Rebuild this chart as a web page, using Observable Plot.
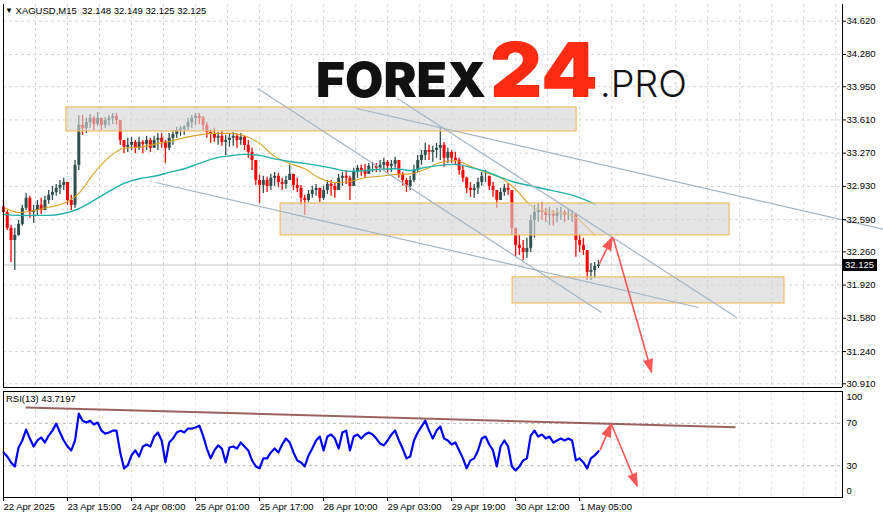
<!DOCTYPE html>
<html><head><meta charset="utf-8">
<script src="https://cdn.jsdelivr.net/npm/d3@7"></script>
<script src="https://cdn.jsdelivr.net/npm/@observablehq/plot@0.6"></script>
<style>
body{margin:0;background:#fff;}
#wrap{position:relative;width:883px;height:518px;overflow:hidden;font-family:"Liberation Sans",Arial,sans-serif;}
#wrap > svg, #wrap > div{position:absolute;}
.lbl{font-size:9.5px;color:#000;white-space:pre;line-height:1;}
</style></head><body><div id="wrap"></div>
<script>
// ---------- DATA (hourly bars, hour index from 22 Apr 22:00) ----------
const firstOpen = 32.72;
const high = [32.786,32.683,32.531,32.501,32.581,32.736,32.858,32.828,32.736,32.786,32.808,32.828,32.888,32.930,32.950,32.990,33.013,32.940,32.838,33.195,
33.656,33.656,33.626,33.666,33.646,33.686,33.626,33.636,33.656,33.676,33.676,33.554,33.400,33.422,33.432,33.400,33.432,33.400,33.442,33.422,
33.442,33.472,33.472,33.400,33.472,33.502,33.534,33.544,33.554,33.626,33.656,33.676,33.676,33.646,33.584,33.502,33.524,33.482,33.492,33.452,
33.472,33.482,33.462,33.472,33.442,33.400,33.320,33.195,33.043,33.033,33.023,33.053,33.073,33.063,33.013,33.033,33.145,33.053,33.013,32.940,
32.838,32.888,32.930,32.950,32.910,32.930,32.990,32.990,32.970,33.053,33.073,33.093,33.033,33.115,33.145,33.145,33.155,33.165,33.175,33.165,
33.195,33.217,33.195,33.195,33.227,33.195,33.073,33.013,33.033,33.145,33.247,33.297,33.370,33.350,33.340,33.370,33.524,33.380,33.320,33.297,
33.277,33.217,33.145,33.023,32.970,32.950,33.013,33.073,33.093,33.033,32.970,32.868,32.910,32.950,32.960,32.888,32.501,32.429,32.376,32.399,
32.633,32.736,32.756,32.766,32.706,32.716,32.683,32.706,32.716,32.683,32.693,32.683,32.653,32.429,32.399,32.274,32.142,32.152,32.172];
const low = [32.633,32.479,32.152,32.069,32.419,32.521,32.683,32.603,32.551,32.633,32.643,32.683,32.746,32.786,32.828,32.848,32.888,32.736,32.683,32.706,
33.093,33.452,33.472,33.524,33.502,33.544,33.502,33.524,33.544,33.564,33.554,33.350,33.267,33.277,33.297,33.267,33.297,33.267,33.297,33.277,
33.320,33.297,33.320,33.165,33.297,33.350,33.422,33.442,33.452,33.502,33.524,33.554,33.564,33.502,33.422,33.370,33.380,33.350,33.340,33.247,
33.330,33.340,33.320,33.350,33.297,33.217,33.093,32.940,32.756,32.858,32.868,32.888,32.930,32.920,32.888,32.900,32.990,32.888,32.868,32.736,
32.633,32.766,32.808,32.828,32.766,32.786,32.848,32.828,32.808,32.888,32.930,32.950,32.786,32.950,33.013,33.033,33.013,33.053,33.073,33.073,
33.073,33.093,33.063,33.073,33.115,33.013,32.930,32.868,32.888,32.970,33.073,33.145,33.195,33.195,33.175,33.217,33.195,33.125,33.165,33.165,
33.145,33.043,32.970,32.858,32.818,32.808,32.848,32.930,32.970,32.888,32.818,32.706,32.786,32.828,32.838,32.429,32.204,32.224,32.172,32.194,
32.254,32.399,32.561,32.581,32.561,32.531,32.521,32.561,32.581,32.561,32.581,32.561,32.204,32.254,32.224,31.967,31.967,31.988,32.090];
const close = [32.663,32.501,32.376,32.429,32.541,32.706,32.808,32.663,32.683,32.736,32.683,32.786,32.838,32.868,32.910,32.940,32.970,32.786,32.736,33.145,
33.554,33.524,33.584,33.626,33.564,33.626,33.554,33.604,33.626,33.646,33.604,33.400,33.330,33.350,33.380,33.320,33.380,33.360,33.400,33.320,
33.400,33.422,33.380,33.320,33.422,33.462,33.502,33.514,33.534,33.584,33.626,33.646,33.626,33.554,33.482,33.462,33.422,33.442,33.380,33.400,
33.422,33.442,33.400,33.432,33.350,33.277,33.195,32.990,32.940,32.990,32.930,33.013,33.033,32.970,32.950,32.990,33.053,32.940,32.910,32.808,
32.786,32.848,32.888,32.910,32.808,32.888,32.950,32.930,32.888,33.013,33.033,33.013,32.930,33.073,33.115,33.093,33.053,33.135,33.135,33.115,
33.145,33.175,33.135,33.155,33.195,33.053,32.990,32.930,32.990,33.093,33.195,33.247,33.297,33.277,33.297,33.320,33.350,33.217,33.277,33.217,
33.195,33.093,33.013,32.910,32.888,32.910,32.970,33.033,33.033,32.930,32.888,32.786,32.868,32.910,32.888,32.501,32.326,32.296,32.254,32.296,
32.581,32.663,32.683,32.663,32.633,32.643,32.623,32.663,32.663,32.633,32.643,32.643,32.376,32.326,32.274,32.050,32.070,32.111,32.125];

const maHours = [0,4,8,12,16,20,24,28,32,36,40,44,48,52,56,60,64,68,72,76,80,84,88,92,96,100,104,108,112,116,120,124,128,132,136,140,144,148,152,156,157];
const maFast = [32.716,32.663,32.683,32.716,32.756,32.858,33.063,33.227,33.320,33.330,33.360,33.390,33.427,33.457,33.472,33.472,33.447,33.370,33.237,33.165,
33.110,33.013,32.970,32.980,33.018,33.033,33.053,33.058,33.105,33.175,33.195,33.135,33.073,33.018,32.900,32.736,32.673,32.658,32.612,32.469,32.429];
const maSlow = [32.643,32.633,32.633,32.633,32.653,32.701,32.786,32.878,32.960,33.008,33.033,33.073,33.110,33.165,33.217,33.242,33.257,33.247,33.212,33.185,
33.165,33.140,33.110,33.083,33.093,33.105,33.110,33.093,33.125,33.145,33.155,33.125,33.083,33.023,32.970,32.935,32.900,32.868,32.828,32.766,32.746];

const rsi = [42.5,38.7,33.1,29.3,47.2,53.8,64.1,55.6,48.1,53.8,56.6,51.9,58.4,63.1,69.7,61.3,53.8,48.1,44.4,53.8,
79.1,72.5,70.7,72.5,68.8,70.7,63.1,60.3,61.3,63.1,63.1,42.5,27.5,30.3,39.7,44.4,38.7,48.1,50.0,48.1,
57.5,61.3,53.8,33.1,51.9,55.6,61.3,63.1,61.3,65.0,65.0,66.0,67.8,58.4,46.2,36.9,44.4,49.1,46.2,33.1,
47.2,48.1,46.2,51.9,48.1,44.4,35.0,29.3,27.5,36.9,36.9,42.5,46.2,42.5,50.0,55.6,51.9,42.5,35.0,33.1,
29.3,39.7,46.2,53.8,57.5,44.4,57.5,59.4,55.6,46.2,61.3,63.1,44.4,57.5,59.4,55.6,59.4,61.3,59.4,55.6,
50.9,49.1,53.8,59.4,63.1,53.8,46.2,36.9,38.7,53.8,61.3,66.9,72.5,63.1,55.6,63.1,66.9,55.6,53.8,50.0,
51.9,44.4,36.9,27.5,35.0,36.9,44.4,55.6,57.5,50.0,44.4,29.3,48.1,53.8,48.1,29.3,25.6,29.3,35.0,36.9,
58.4,63.1,57.5,59.4,55.6,57.5,51.9,53.8,55.6,53.8,55.6,53.8,35.0,36.9,33.1,27.5,36.9,39.7,43.72];

const timeTicks = [0,17,34,51,68,85,102,119,136,153];
const timeLabels = ["22 Apr 2025","23 Apr 15:00","24 Apr 08:00","25 Apr 01:00","25 Apr 17:00","28 Apr 10:00","29 Apr 03:00","29 Apr 19:00","30 Apr 12:00","1 May 05:00"];
const priceTicks = [34.62,34.28,33.95,33.61,33.27,32.93,32.59,32.26,31.92,31.58,31.24,30.91];
const priceLabels = ["34.620","34.280","33.950","33.610","33.270","32.930","32.590","32.260","31.920","31.580","31.240","30.910"];
const rsiLevels = [70,30];
const lastPrice = 32.125;

const zoneH1 = [16.7,73.6,135.2], zoneH2 = [152.2,192.8,207.4];
const zoneTop = [33.737,32.755,31.999], zoneBottom = [33.492,32.429,31.732];
const lineH1 = [67.5,104.6,93.8,40.4], lineP1 = [33.932,33.829,33.727,32.970];
const lineH2 = [158.8,194.7,233.7,184.6], lineP2 = [31.640,31.588,32.491,31.691];
const arrowH1 = [158.3,161.9], arrowP1 = [32.141,32.406], arrowH2 = [161.7,172.1], arrowP2 = [32.412,31.029];
const rsiLineH = [5.84,194.4], rsiLineV = [85.0,66.2];
const rsiArrowH1 = [158.4,161.4], rsiArrowV1 = [44.4,69.4], rsiArrowH2 = [161.4,168.3], rsiArrowV2 = [69.4,10.6];

// ---------- LAYOUT ----------
const W = 883, mL = 3, mR = 41;
const xDomain = [0, 222.8];
const yDomain = [30.872, 34.791];
const mainH = 390, mainTop = 4, mainBottom = 3;
const rsiH = 128, rsiTop = 1, rsiBottom = 21;
const UP = "#2f4f4f", DOWN = "#ff0000", ARROW = "#ff5555", TLINE = "#a3b5c3";
const gridH = d3.range(8.5, 222, 8.5);
const font = {fontFamily: "'Liberation Sans', Arial, sans-serif", fontSize: "9.5px", background: "transparent", overflow: "visible"};

const sx = d3.scaleLinear(xDomain, [mL, W - mR]);
const sy = d3.scaleLinear(yDomain, [mainH - mainBottom, mainTop]);
const sr = d3.scaleLinear([0, 100], [rsiH - rsiBottom, rsiTop]);
const angle = (x1, y1, x2, y2) => Math.atan2(x2 - x1, -(y2 - y1)) * 180 / Math.PI;

const bars = close.map((c, i) => ({t: i, o: i ? close[i - 1] : firstOpen, h: high[i], l: low[i], c}));
const colorOf = d => d.c >= d.o ? UP : DOWN;
const zones = zoneH1.map((h, i) => ({h1: h, h2: zoneH2[i], p1: zoneTop[i], p2: zoneBottom[i]}));
const tlines = lineH1.map((h, i) => ({h1: h, p1: lineP1[i], h2: lineH2[i], p2: lineP2[i]}));
const arrows = arrowH1.map((h, i) => ({h1: h, p1: arrowP1[i], h2: arrowH2[i], p2: arrowP2[i],
  rot: angle(sx(h), sy(arrowP1[i]), sx(arrowH2[i]), sy(arrowP2[i]))}));
const rArrows = rsiArrowH1.map((h, i) => ({h1: h, v1: rsiArrowV1[i], h2: rsiArrowH2[i], v2: rsiArrowV2[i],
  rot: angle(sx(h), sr(rsiArrowV1[i]), sx(rsiArrowH2[i]), sr(rsiArrowV2[i]))}));

const main = Plot.plot({
  width: W, height: mainH, marginLeft: mL, marginRight: mR, marginTop: mainTop, marginBottom: mainBottom,
  style: font,
  x: {domain: xDomain, axis: null},
  y: {domain: yDomain, axis: null},
  marks: [
    Plot.ruleY(priceTicks, {stroke: "#d6d6d6", strokeDasharray: "3,3"}),
    Plot.ruleX(gridH, {stroke: "#d6d6d6", strokeDasharray: "3,3"}),
    Plot.ruleY([lastPrice], {stroke: "#c8c8c8"}),
    Plot.ruleX(bars, {x: "t", y1: d => Math.min(d.l, d.o, d.c), y2: d => Math.max(d.h, d.o, d.c), stroke: colorOf, strokeWidth: 1.3}),
    Plot.ruleX(bars, {x: "t", y1: "o", y2: "c", stroke: colorOf, strokeWidth: 3}),
    Plot.line(maFast, {x: (d, i) => maHours[i], y: d => d, stroke: "#daa020", strokeWidth: 1.1, curve: "monotone-x"}),
    Plot.line(maSlow, {x: (d, i) => maHours[i], y: d => d, stroke: "#20b2aa", strokeWidth: 1.4, curve: "monotone-x"}),
    Plot.rect(zones, {x1: "h1", x2: "h2", y1: "p1", y2: "p2", fill: "#d3d3d3", fillOpacity: 0.62, stroke: "#f2bd62", strokeWidth: 1.2}),
    Plot.link(tlines, {x1: "h1", y1: "p1", x2: "h2", y2: "p2", stroke: TLINE, strokeWidth: 1.2}),
    Plot.link(arrows, {x1: "h1", y1: "p1", x2: "h2", y2: "p2", stroke: ARROW, strokeWidth: 1.6}),
    Plot.vector(arrows, {x: "h2", y: "p2", rotate: "rot", length: 13, r: 4.5, shape: "spike", anchor: "end", fill: ARROW, fillOpacity: 1, stroke: ARROW, strokeWidth: 1}),
    Plot.ruleX([xDomain[0]], {stroke: "#000"}),
    Plot.ruleX([xDomain[1]], {stroke: "#000"}),
    Plot.ruleY([yDomain[0]], {stroke: "#000"}),
    Plot.axisY(priceTicks, {anchor: "right", tickSize: 3, tickPadding: 1, tickFormat: (d) => priceLabels[priceTicks.indexOf(d)], fontSize: 9.5})
  ]
});
main.style.top = "0px"; main.style.left = "0px";

const rsiPlot = Plot.plot({
  width: W, height: rsiH, marginLeft: mL, marginRight: mR, marginTop: rsiTop, marginBottom: rsiBottom,
  style: font,
  x: {domain: xDomain, axis: null},
  y: {domain: [0, 100], axis: null},
  marks: [
    Plot.ruleX(gridH, {stroke: "#dedede", strokeDasharray: "3,3"}),
    Plot.ruleY(rsiLevels, {stroke: "#b8b8b8", strokeDasharray: "3,3"}),
    Plot.line(rsi, {x: (d, i) => i, y: d => d, stroke: "#0000ff", strokeWidth: 2.2}),
    Plot.link([0], {x1: () => rsiLineH[0], y1: () => rsiLineV[0], x2: () => rsiLineH[1], y2: () => rsiLineV[1], stroke: "#8a4646", strokeWidth: 2, strokeOpacity: 0.85}),
    Plot.link(rArrows, {x1: "h1", y1: "v1", x2: "h2", y2: "v2", stroke: ARROW, strokeWidth: 1.6}),
    Plot.vector(rArrows, {x: "h2", y: "v2", rotate: "rot", length: 13, r: 4.5, shape: "spike", anchor: "end", fill: ARROW, fillOpacity: 1, stroke: ARROW, strokeWidth: 1}),
    Plot.frame({stroke: "#000"}),
    Plot.axisY(rsiLevels, {anchor: "right", tickSize: 0, tickPadding: 4, fontSize: 9.5}),
    Plot.text([100], {x: xDomain[1], y: d => d, text: d => String(d), textAnchor: "start", dx: 4, dy: 5, fontSize: 9.5}),
    Plot.text([0], {x: xDomain[1], y: d => d, text: d => String(d), textAnchor: "start", dx: 4, dy: -7, fontSize: 9.5}),
    Plot.axisX(timeTicks, {anchor: "bottom", tickSize: 4, tickPadding: 2, textAnchor: "start", dx: 0, tickFormat: d => timeLabels[timeTicks.indexOf(d)], fontSize: 9.5})
  ]
});
rsiPlot.style.top = "390px"; rsiPlot.style.left = "0px";

const wrap = document.getElementById("wrap");
wrap.appendChild(main);
wrap.appendChild(rsiPlot);

// header texts
const title = document.createElement("div");
title.className = "lbl"; title.style.left = "5px"; title.style.top = "6px";
title.innerHTML = '<span style="font-size:8px;vertical-align:1px">▼</span> XAGUSD,M15  32.148 32.149 32.125 32.125';
wrap.appendChild(title);
const rsiLbl = document.createElement("div");
rsiLbl.className = "lbl"; rsiLbl.style.left = "6px"; rsiLbl.style.top = "394px";
rsiLbl.textContent = "RSI(13) 43.7197";
wrap.appendChild(rsiLbl);
// last price box
const ly = main.scale("y").apply(lastPrice);
const box = document.createElement("div");
box.className = "lbl";
Object.assign(box.style, {left: (W - mR) + "px", top: (ly - 6) + "px", width: "35px", height: "12px", background: "#000", color: "#fff", lineHeight: "12px", paddingLeft: "3px", boxSizing: "border-box"});
box.textContent = lastPrice.toFixed(3);
wrap.appendChild(box);

// logo
const ns = "http://www.w3.org/2000/svg";
const logo = document.createElementNS(ns, "svg");
logo.setAttribute("width", W); logo.setAttribute("height", 120);
logo.style.top = "0px"; logo.style.left = "0px";
logo.innerHTML =
  '<text x="316" y="97" font-family="Inter, Lato, sans-serif" font-weight="900" font-size="48" fill="#111" textLength="170" lengthAdjust="spacingAndGlyphs">FOREX</text>' +
  '<text x="490" y="97" font-family="Inter, Lato, sans-serif" font-weight="900" font-size="76" fill="#fe2b13" textLength="108" lengthAdjust="spacingAndGlyphs">24</text>' +
  '<text x="600" y="97" font-family="Inter, Lato, sans-serif" font-weight="300" font-size="37" fill="#111" textLength="87" lengthAdjust="spacingAndGlyphs">.PRO</text>';
wrap.appendChild(logo);
</script></body></html>
